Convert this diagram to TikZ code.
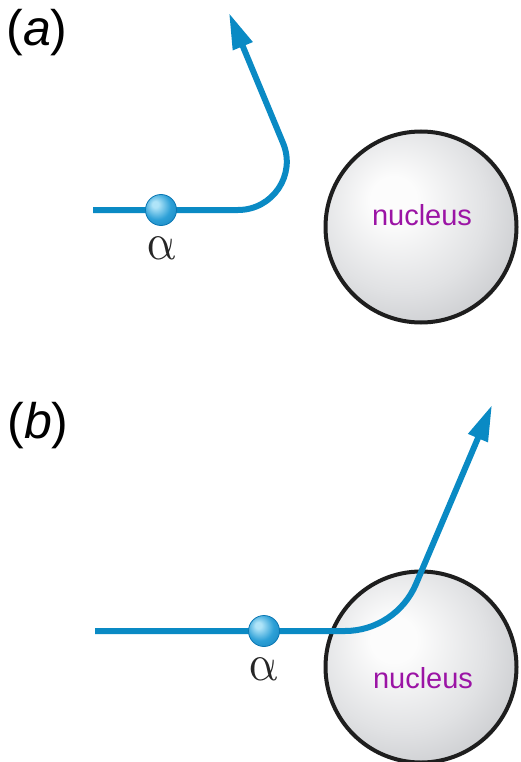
\documentclass[tikz,border=0pt]{standalone}
\usepackage{fontspec}
\setmainfont{Liberation Sans}
\usetikzlibrary{arrows.meta}
\definecolor{trackblue}{RGB}{10,138,196}
\definecolor{nucin}{RGB}{252,252,252}
\definecolor{nucmid}{RGB}{225,226,228}
\definecolor{nucout}{RGB}{165,167,172}
\definecolor{nucline}{RGB}{30,30,30}
\definecolor{nucpurple}{RGB}{155,20,165}
\definecolor{ballhi}{RGB}{175,228,248}
\definecolor{ballmid}{RGB}{45,160,215}
\definecolor{ballout}{RGB}{10,118,178}
\pgfdeclareradialshading{nucshade}{\pgfpoint{-8bp}{8bp}}{color(0bp)=(nucin); color(6bp)=(nucin); color(22bp)=(nucmid); color(50bp)=(nucout); color(60bp)=(nucout)}
\pgfdeclareradialshading{ballshade}{\pgfpoint{-10bp}{10bp}}{color(0bp)=(ballhi); color(5bp)=(ballhi); color(22bp)=(ballmid); color(48bp)=(ballout); color(60bp)=(ballout)}
\tikzset{
  track/.style={draw=trackblue, line width=6pt, -{Triangle[length=36pt,width=20pt]}},
  nucleus/.style={circle, draw=nucline, line width=4pt, shading=nucshade, minimum size=191pt, inner sep=0pt},
  alphaball/.style={circle, draw=ballout, line width=0.8pt, shading=ballshade, minimum size=31pt, inner sep=0pt},
  nuctext/.style={text=nucpurple, font=\fontsize{29}{32}\selectfont, inner sep=0pt},
  alphalabel/.style={text=black!85, xslant=-0.22, inner sep=0pt},
  partlabel/.style={font=\fontsize{50}{54}\selectfont, inner sep=0pt}
}
\newcommand{\alphasym}{\scalebox{4.5}[5.2]{$\alpha$}}
\begin{document}
\begin{tikzpicture}[x=1pt, y=-1pt]
\useasboundingbox (0,0) rectangle (520,762);
\clip (0,0) rectangle (520,762);
% ---------- panel (a)
\node[partlabel] (labA) at (37,33) {(\textit{a})};
\node[nucleus] (nucA) at (421,227) {};
\node[nuctext] (nucAtext) at (422,215) {nucleus};
\coordinate (startA) at (93,210);
\coordinate (tipA) at (229,13);
\draw[track] (startA) -- (238,210) .. controls (272.7,210) and (296.4,174.9) .. (283,143) -- (tipA);
\node[alphaball] (ballA) at (161,210) {};
\node[alphalabel] (alphaA) at (162,248) {\alphasym};
% ---------- panel (b)
\node[partlabel] (labB) at (38,426) {(\textit{b})};
\node[nucleus] (nucB) at (421,667) {};
\node[nuctext] (nucBtext) at (423,678) {nucleus};
\coordinate (startB) at (95,631);
\coordinate (tipB) at (492,405);
\draw[track] (startB) -- (345,631) .. controls (376,631) and (403.9,612.4) .. (416,584) -- (tipB);
\node[alphaball] (ballB) at (264,631) {};
\node[alphalabel] (alphaB) at (264,669) {\alphasym};
\end{tikzpicture}
\end{document}
